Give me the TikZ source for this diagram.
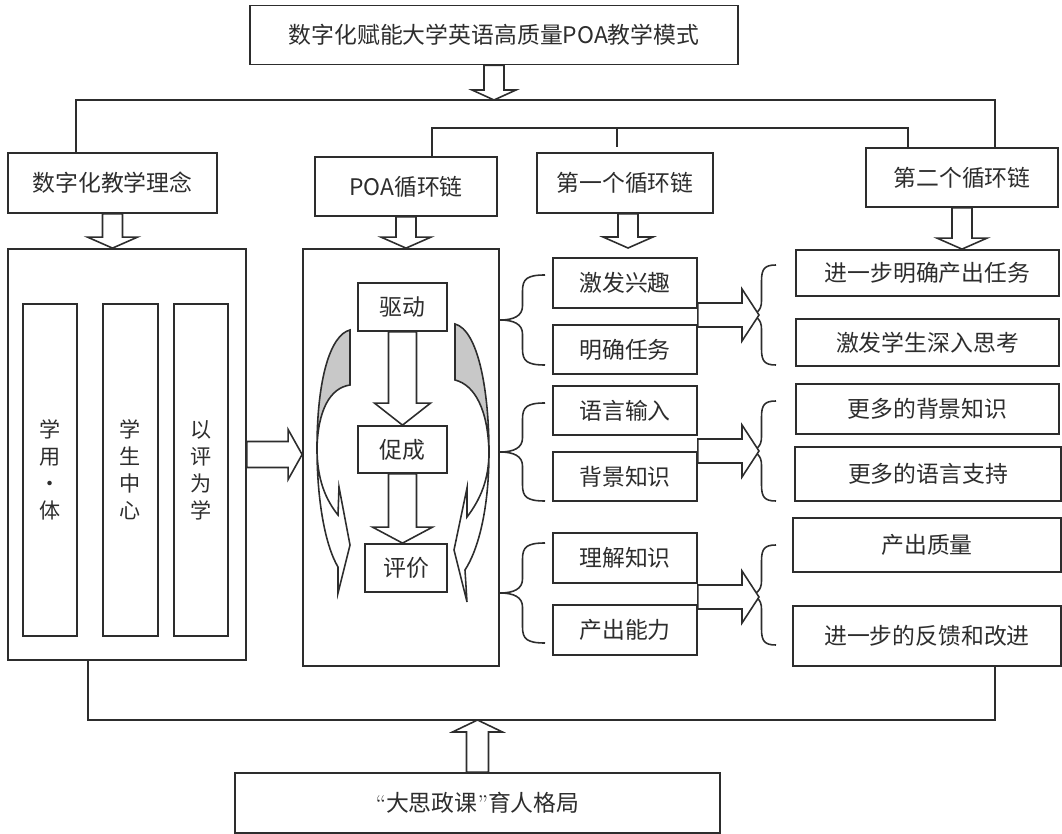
\documentclass[tikz,border=0pt]{standalone}
\usepackage{fontspec}
\newfontfamily\cjk{Noto Sans CJK SC}
\usetikzlibrary{calc}
\definecolor{linec}{RGB}{45,45,45}
\definecolor{ribbon}{RGB}{200,200,200}
\newcommand{\pxu}{0.569pt}
% hollow block arrow: from, to, half shaft, half head, head length (px)
\newcommand{\hollow}[5]{%
  \draw[fill=white] let \p1=(#1), \p2=(#2), \n1={atan2(\y2-\y1,\x2-\x1)} in
    ($(\p1)+(\n1+90:#3*\pxu)$)
    -- ($(\p2)+(\n1+180:#5*\pxu)+(\n1+90:#3*\pxu)$)
    -- ($(\p2)+(\n1+180:#5*\pxu)+(\n1+90:#4*\pxu)$)
    -- (\p2)
    -- ($(\p2)+(\n1+180:#5*\pxu)+(\n1-90:#4*\pxu)$)
    -- ($(\p2)+(\n1+180:#5*\pxu)+(\n1-90:#3*\pxu)$)
    -- ($(\p1)+(\n1-90:#3*\pxu)$) -- cycle;}
\begin{document}
\begin{tikzpicture}[x=0.02cm, y=-0.02cm, color=linec, line width=0.9pt]
    \tikzset{box/.style={draw, line width=1pt, inner sep=0pt, font=\cjk\fontsize{13pt}{15pt}\selectfont}}
    \tikzset{colbox/.style={box, align=center, font=\cjk\fontsize{12pt}{15.4pt}\selectfont}}
    \tikzset{wh/.style 2 args={minimum width=#1*0.02cm, minimum height=#2*0.02cm}}
    \tikzset{pics/curly/.style 2 args={code={
        \draw (#2,-#1) .. controls (#2*0.6,-#1) and (#2*0.5,-#1+4) .. (#2*0.5,-#1+16) -- (#2*0.5,-14)
            .. controls (#2*0.5,-4) and (#2*0.3,0) .. (0,0)
            .. controls (#2*0.3,0) and (#2*0.5,4) .. (#2*0.5,14) -- (#2*0.5,#1-16)
            .. controls (#2*0.5,#1-4) and (#2*0.6,#1) .. (#2,#1);}}}
    \useasboundingbox (0,0) rectangle (1062,834);

    \node[box, wh={488}{59}] (title) at (494,35) {数字化赋能大学英语高质量POA教学模式};

    \node[box, wh={209}{60}] (theory) at (112.5,183) {数字化教学理念};
    \node[box, wh={182}{59}] (poa) at (406,186.5) {POA循环链};
    \node[box, wh={176}{60}] (chain1) at (625,183) {第一个循环链};
    \node[box, wh={192}{59}] (chain2) at (962,177.5) {第二个循环链};

    \coordinate (bl) at (76,100);
    \coordinate (br) at (995,100);
    \draw (bl |- theory.north) -- (bl) -- (br) -- (br |- chain2.north);
    \coordinate (cl) at (432,128);
    \coordinate (cm) at (617,128);
    \coordinate (cr) at (908,128);
    \draw (cl |- poa.north) -- (cl) -- (cr) -- (cr |- chain2.north);
    \draw (cm) -- ++(0,19);
    \hollow{title.south}{title.south |- bl}{10}{22}{10}

    % left panel
    \node[box, wh={238}{411}] (leftpanel) at (127,454.5) {};
        \node[colbox, wh={54}{332}] (col1) at (50,470) {学\\用\\·\\体};
        \node[colbox, wh={55}{332}] (col2) at (130.5,470) {学\\生\\中\\心};
        \node[colbox, wh={54}{332}] (col3) at (201,470) {以\\评\\为\\学};

    % POA panel
    \node[box, wh={196}{417}] (poapanel) at (401,457.5) {};
        \node[box, wh={89}{48}] (drive) at (402.5,307) {驱动};
        \node[box, wh={89}{47}] (promote) at (402.5,449.5) {促成};
        \node[box, wh={82}{48}] (assess) at (406,568) {评价};
        \hollow{drive.south}{promote.north}{14}{28}{22}
        \hollow{promote.south}{promote.south |- assess.north}{14}{30}{16}
        \fill[ribbon] (350,330) .. controls (330,335) and (317,380) .. (317,448) .. controls (318,410) and (330,388) .. (350,385) -- cycle;
        \draw (350,330) .. controls (330,335) and (317,380) .. (317,448) .. controls (317,500) and (325,545) .. (338,567) -- (338,593) -- (350,545) -- (339,487) -- (338,515) .. controls (326,500) and (317,480) .. (317,448) .. controls (318,410) and (330,388) .. (350,385) -- cycle;
        \fill[ribbon] (455,324) .. controls (478,330) and (489,390) .. (489,452) .. controls (488,410) and (475,385) .. (455,380) -- cycle;
        \draw (455,324) .. controls (478,330) and (489,390) .. (489,452) .. controls (489,510) and (478,550) .. (465,570) -- (467,602) -- (454,550) -- (467,488) -- (467,517) .. controls (480,500) and (489,480) .. (489,452) .. controls (488,410) and (475,385) .. (455,380) -- cycle;

    % first cycle
    \node[box, wh={144}{50}] (interest) at (625,283) {激发兴趣};
    \node[box, wh={144}{49}] (task) at (625,349.5) {明确任务};
    \node[box, wh={144}{49}] (input) at (625,410.5) {语言输入};
    \node[box, wh={144}{49}] (bg) at (625,476.5) {背景知识};
    \node[box, wh={144}{50}] (underst) at (625,558) {理解知识};
    \node[box, wh={144}{50}] (produce) at (625,630) {产出能力};

    % second cycle
    \node[box, wh={263}{46}] (r1) at (927.5,273) {进一步明确产出任务};
    \node[box, wh={263}{47}] (r2) at (927.5,342.5) {激发学生深入思考};
    \node[box, wh={263}{50}] (r3) at (927.5,409) {更多的背景知识};
    \node[box, wh={266}{54}] (r4) at (928,474) {更多的语言支持};
    \node[box, wh={268}{54}] (r5) at (927,545) {产出质量};
    \node[box, wh={268}{60}] (r6) at (927,636) {进一步的反馈和改进};

    \foreach \y/\h in {320/45,452/49,593/50}{
        \path (500,\y) pic {curly={\h}{45}};
    }
    \foreach \y/\h in {315/50,451/50,595/50}{
        \path (747,\y) pic {curly={\h}{29}};
    }
    \foreach \y in {315,451,597}{
        \coordinate (t) at (759,\y);
        \hollow{interest.east |- t}{t}{12}{26}{17}
    }

    \hollow{theory.south}{theory.south |- leftpanel.north}{10}{25}{11}
    \hollow{poa.south}{poa.south |- poapanel.north}{10}{25}{11}
    \coordinate (c1tip) at (628,248);
    \hollow{chain1.south -| c1tip}{c1tip}{10}{25}{11}
    \hollow{chain2.south}{chain2.south |- r1.north}{10}{25}{11}
    \hollow{leftpanel.east}{leftpanel.east -| poapanel.west}{13}{25}{14}

    % bottom
    \node[box, wh={485}{60}] (bottom) at (477.5,803) {{\normalfont “}大思政课{\normalfont ”}育人格局};
    \coordinate (dl) at (88,720);
    \coordinate (dr) at (995,720);
    \draw (dl |- leftpanel.south) -- (dl) -- (dr) -- (dr |- r6.south);
    \hollow{bottom.north}{bottom.north |- dl}{11}{25}{12}
\end{tikzpicture}
\end{document}
